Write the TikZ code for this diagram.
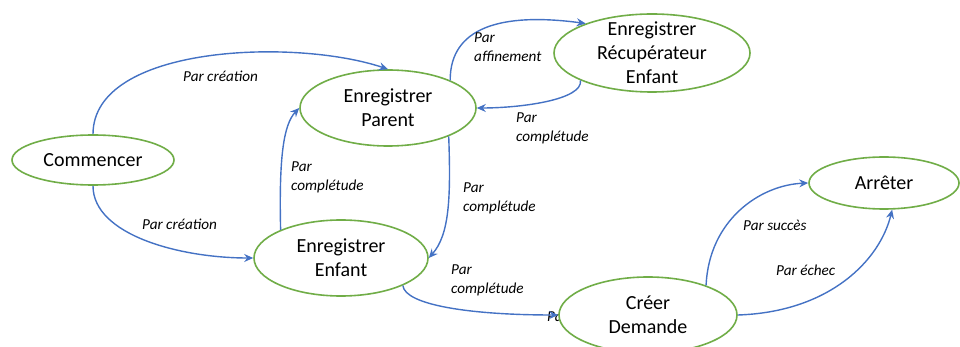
\documentclass[tikz,border=0pt]{standalone}
\usepackage{fontspec}
\setmainfont{Carlito}
\usetikzlibrary{shapes.geometric,arrows.meta}
\definecolor{edgeblue}{HTML}{4472C4}
\definecolor{nodegreen}{HTML}{70AD47}
\tikzset{
  st/.style={ellipse, draw=nodegreen, line width=1.6pt, fill=white, inner sep=0pt},
  txt/.style={align=center, inner sep=0pt, font=\fontsize{20}{24}\selectfont},
  lbl/.style={align=left, anchor=west, inner sep=0pt, font=\fontsize{15.2}{19}\selectfont\itshape},
  conn/.style={draw=edgeblue, line width=1.4pt, -{Stealth[length=9pt,width=8pt,inset=3pt]}}
}
\begin{document}
\begin{tikzpicture}[x=1pt,y=-1pt]
\useasboundingbox (0,0) rectangle (960,347);
\clip (0,0) rectangle (960,347);
% hidden label behind Creer Demande
\node[lbl] (hid) at (547,317) {Par};
% states
\node[st, minimum width=162pt, minimum height=50pt] (com) at (93,160) {};
\node[txt] (comt) at (com) {Commencer};
\node[st, minimum width=176pt, minimum height=76pt] (par) at (388,108) {};
\node[txt] (part) at (par) {Enregistrer\\Parent};
\node[st, minimum width=174pt, minimum height=76pt] (enf) at (341,258) {};
\node[txt] (enft) at (enf) {Enregistrer\\Enfant};
\node[st, minimum width=196pt, minimum height=78pt] (rec) at (652,53) {};
\node[txt] (rect) at (rec) {Enregistrer\\Récupérateur\\Enfant};
\node[st, minimum width=178pt, minimum height=76pt] (cre) at (648,315) {};
\node[txt] (cret) at (cre) {Créer\\Demande};
\node[st, minimum width=150pt, minimum height=52pt] (arr) at (884,183) {};
\node[txt] (arrt) at (arr) {Arrêter};
% connectors
\draw[conn] (com.north) .. controls (93,45) and (295,38) .. (par.north);
\draw[conn] (com.south) .. controls (93,235) and (180,258) .. (enf.west);
\draw[conn] (enf.155) .. controls (279,160) and (283,125) .. (par.west);
\draw[conn] (par.335) .. controls (451,200) and (449,235) .. (enf.east);
\draw[conn] (par.24) .. controls (450,28) and (500,12) .. (rec.156);
\draw[conn] (rec.201) .. controls (583,100) and (520,108) .. (par.east);
\draw[conn] (enf.336) .. controls (405,305) and (470,315) .. (cre.west);
\draw[conn] (cre.27) .. controls (709,220) and (760,185) .. (arr.west);
\draw[conn] (cre.east) .. controls (830,312) and (880,260) .. (arr.287);
% labels
\node[lbl] (l1) at (183,76) {Par création};
\node[lbl] (l2) at (142,224) {Par création};
\node[lbl] (l3) at (291,177) {Par\\complétude};
\node[lbl] (l4) at (463,198) {Par\\complétude};
\node[lbl] (l5) at (474,47) {Par\\affinement};
\node[lbl] (l6) at (516,128) {Par\\complétude};
\node[lbl] (l7) at (451,280) {Par\\complétude};
\node[lbl] (l8) at (743,225) {Par succès};
\node[lbl] (l9) at (776,270) {Par échec};
\end{tikzpicture}
\end{document}
